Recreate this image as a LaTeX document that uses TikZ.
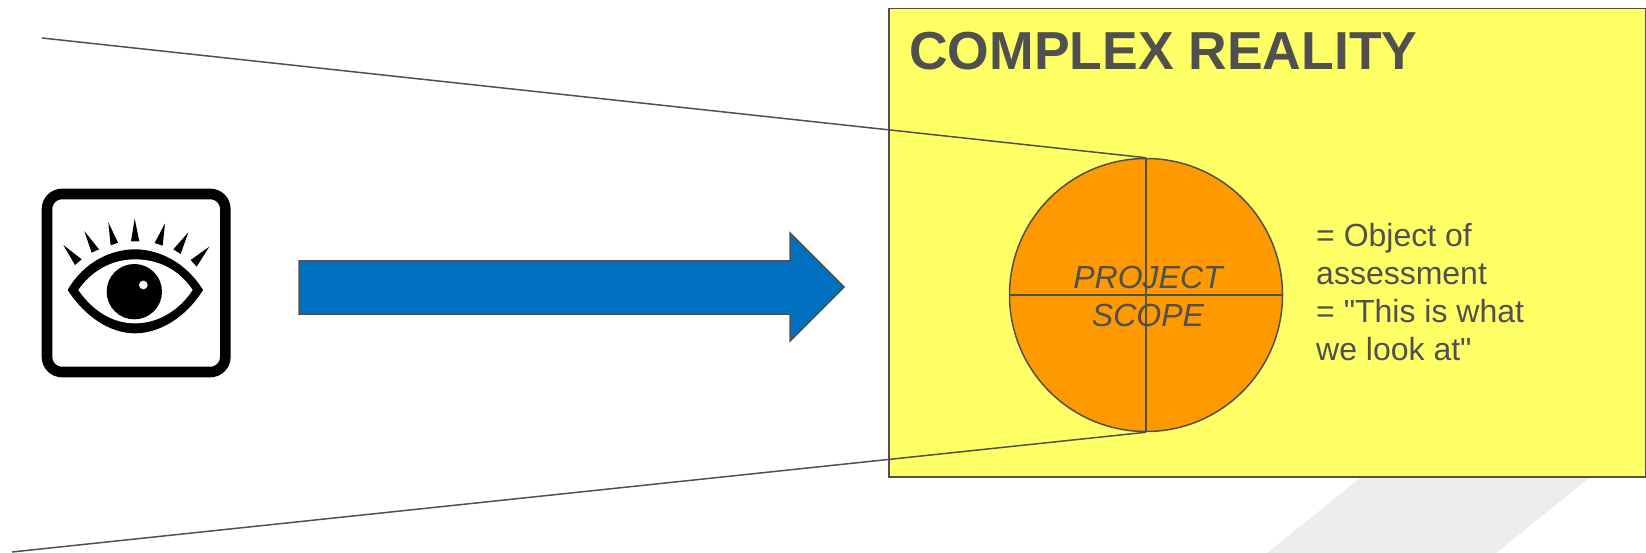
\documentclass[tikz,border=0pt]{standalone}
\usepackage{fontspec}
\setmainfont{Liberation Sans}[Ligatures=TeXOff]
\definecolor{ink}{HTML}{505050}
\definecolor{paper}{HTML}{FFFF66}
\definecolor{disc}{HTML}{FF9900}
\definecolor{flow}{HTML}{0070C0}
\definecolor{ghost}{HTML}{EDEDED}
\tikzset{
  edge/.style={draw=ink,line width=1.5pt},
  body/.style={text=ink,font=\fontsize{32}{37.8}\selectfont,align=left,inner sep=0pt},
  lash/.style={fill=black,draw=none},
}
\begin{document}
\begin{tikzpicture}[x=1pt,y=-1pt]
\useasboundingbox (0,0) rectangle (1646,553);
\fill[white] (0,0) rectangle (1646,553);
\fill[ghost] (1365,474) -- (1594,474) -- (1496,553) -- (1267,553) -- cycle;
\node[edge,fill=paper,minimum width=757pt,minimum height=468pt,inner sep=0pt,anchor=north west] (reality) at (888,8) {};
\node[circle,edge,fill=disc,minimum size=273pt,inner sep=0pt] (scope) at (1146,295) {};
\node[text=ink,font=\bfseries\fontsize{53.5}{60}\selectfont,inner sep=0pt,anchor=base west] (title) at (909,69.5) {COMPLEX REALITY};
\node[body,font=\itshape\fontsize{32}{38}\selectfont,align=center,anchor=base] (scopetext) at (1148,326) {PROJECT\\SCOPE};
\node[body,anchor=base west] (note) at (1316,360) {= Object of\\assessment\\= "This is what\\we look at"};
\draw[edge] (scope.north) -- (scope.south);
\draw[edge] (scope.west) -- (scope.east);
\coordinate (farA) at (42,38);
\coordinate (farB) at (12,552);
\draw[edge] (farA) -- (scope.north);
\draw[edge] (farB) -- (scope.south);
\path[edge,fill=flow] (299,261) -- (790,261) -- (790,233) -- (844,287) -- (790,341) -- (790,314) -- (299,314) -- cycle;
\begin{scope}[shift={(20,170)},x=0.33333pt,y=-0.33333pt]
\draw[black,line width=10.6pt,rounded corners=15pt] (81,72) rectangle (616,606);
\fill[black] (143,360) .. controls (195,270) and (280,238) .. (345,238) .. controls (420,238) and (500,280) .. (549,360) .. controls (500,440) and (420,490) .. (345,490) .. controls (270,490) and (195,440) .. (143,360) -- cycle;
\fill[white] (175,360) .. controls (220,295) and (285,268) .. (345,268) .. controls (410,268) and (475,295) .. (518,360) .. controls (475,425) and (410,460) .. (345,460) .. controls (280,460) and (220,425) .. (175,360) -- cycle;
\fill[black] (343,365) circle[radius=83];
\fill[white] (370,345) circle[radius=13];
\fill[lash] (130,225) -- (165,285) -- (185,268) -- cycle;
\fill[lash] (193,183) -- (215,248) -- (237,238) -- cycle;
\fill[lash] (265,157) -- (272,226) -- (294,218) -- cycle;
\fill[lash] (344,146) -- (333,214) -- (358,214) -- cycle;
\fill[lash] (435,160) -- (404,219) -- (428,227) -- cycle;
\fill[lash] (505,187) -- (460,238) -- (482,252) -- cycle;
\fill[lash] (568,230) -- (512,270) -- (530,290) -- cycle;
\end{scope}
\end{tikzpicture}
\end{document}
